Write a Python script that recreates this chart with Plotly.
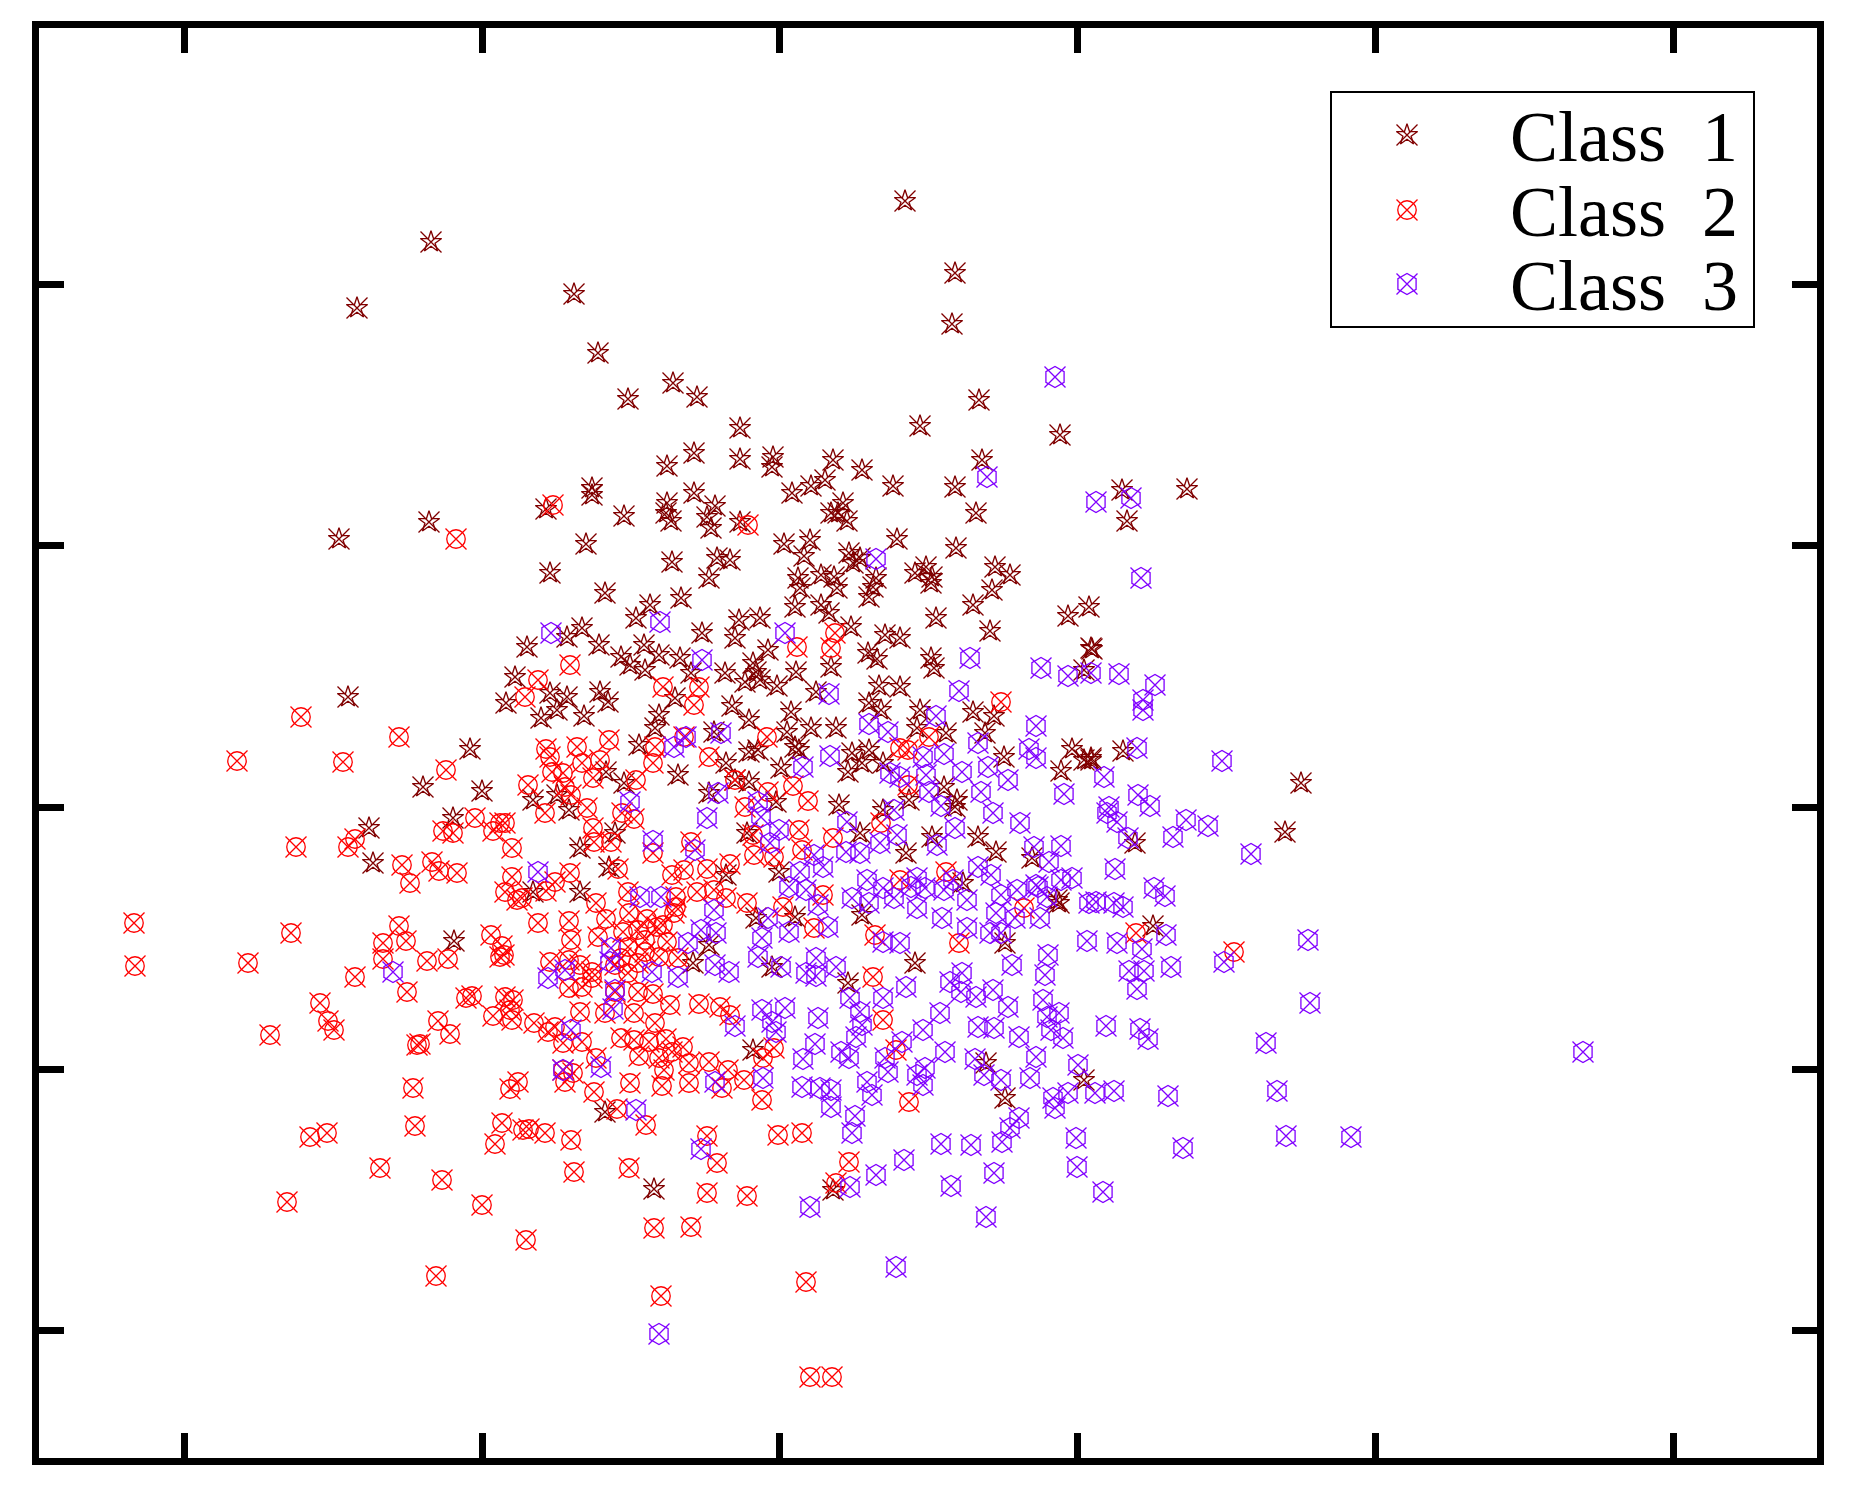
import plotly.graph_objects as go

# Values. The axes carry no numbers, so their units are arbitrary.
class1_x = [431,357,574,598,673,697,628,740,694,667,740,773,772,833,862,825,811,792,694,667,592,592,715,707,671,666,711,624,546,740,843,831,847,838,429,339,586,784,810,804,849,672,717,730,550,709,
905,955,952,979,920,1060,982,893,955,976,1122,1127,1187,897,956,853,860,995,1010,926,915,932,821,798,876,834,
605,681,800,837,873,869,795,821,829,931,992,973,936,1068,1089,990,1091,636,650,739,760,735,851,702,582,567,599,527,621,644,630,659,645,680,691,725,753,756,768,745,760,777,796,831,816,868,877,885,900,931,934,879,900,869,881,973,994,920,917,946,985,1004,1072,1061,1091,515,506,550,541,567,557,584,600,608,675,659,655,639,678,606,624,732,749,791,787,811,836,714,726,749,758,795,781,799,848,852,869,862,883,735,749,709,776,839,909,944,955,957,860,883,726,779,747,906,932,978,996,1032,580,615,533,557,569,609,533,580,1059,795,862,963,
756,693,709,772,915,848,753,986,1005,1084,605,654,833,1057,1005,
348,470,423,482,453,369,373,454,
1092,1084,1091,1084,1123,1301,1285,1135,1153]
class1_y = [1258,1192,1206,1147,1117,1103,1101,1072,1047,1034,1041,1043,1033,1040,1030,1020,1014,1007,1007,997,1012,1005,994,983,979,987,972,984,991,978,997,987,979,987,978,961,956,956,960,944,947,938,942,940,927,922,
1299,1227,1176,1100,1074,1065,1040,1014,1013,987,1010,979,1011,961,952,937,942,933,925,933,927,923,925,922,922,923,
907,902,912,912,913,903,893,895,887,917,910,895,882,884,893,869,852,882,895,880,882,862,873,867,872,863,855,853,843,855,835,845,830,842,827,827,837,828,850,818,820,814,828,833,808,847,841,865,862,842,832,814,813,797,790,788,784,790,772,767,767,743,751,729,742,823,797,807,782,803,790,784,808,798,802,785,772,755,725,728,717,794,780,788,768,772,772,768,737,748,750,753,732,750,728,747,750,737,737,720,718,707,698,695,700,713,693,700,667,690,625,628,667,647,663,663,648,642,652,667,700,705,690,633,608,608,597,583,585,617,
582,537,555,533,537,517,450,437,402,420,388,311,310,600,557,
803,751,713,709,682,672,637,559,
851,830,740,740,749,717,668,657,574]

class2_x = [301,399,237,343,446,528,475,500,493,443,453,512,296,355,348,402,432,439,457,410,512,505,517,134,291,399,406,383,383,491,502,500,504,427,448,135,248,355,407,472,466,505,513,320,
328,334,270,438,450,420,417,493,510,512,413,510,518,502,415,523,310,327,495,380,442,287,482,436,
553,456,748,
570,538,525,663,699,694,797,835,831,1001,609,577,546,550,655,653,582,600,563,552,593,636,709,735,767,684,929,900,908,565,571,768,793,808,745,908,587,545,634,622,593,611,594,505,753,799,881,833,691,653,754,774,802,730,684,707,672,618,570,555,522,546,628,697,714,676,726,747,596,783,900,946,823,1024,538,569,606,629,647,674,676,663,598,623,638,657,571,645,667,814,875,959,
645,628,621,550,569,580,615,638,659,678,628,592,569,582,592,615,638,653,670,699,720,730,534,555,548,580,605,634,655,621,634,649,666,683,563,582,672,659,689,709,728,639,596,664,563,573,763,774,744,689,662,630,565,594,722,762,617,646,909,873,529,545,571,707,778,802,574,629,717,849,836,707,747,654,691,526,883,896,
661,806,810,832,1136,1234]
class2_y = [783,763,739,738,730,715,682,677,669,669,667,652,653,661,653,635,638,629,627,617,623,608,600,577,567,574,559,557,541,565,554,543,545,539,541,534,537,523,508,504,502,503,500,497,
479,470,465,479,466,456,455,484,490,480,412,411,418,377,374,370,363,367,356,332,320,298,295,224,
995,961,975,
835,820,803,813,813,795,853,867,852,798,760,753,751,743,753,737,737,740,727,728,722,720,743,720,763,763,763,752,750,713,705,708,714,699,693,715,692,687,681,687,672,658,658,677,665,670,677,662,658,647,645,643,650,636,630,631,625,631,627,618,602,609,608,608,610,603,602,597,597,593,620,628,605,592,577,579,581,587,581,587,593,575,563,568,570,573,560,560,558,572,565,557,
548,553,542,538,540,535,535,537,543,542,527,528,512,513,522,508,508,506,495,496,493,485,477,473,468,488,487,487,477,462,460,458,461,453,457,458,448,442,437,438,430,444,442,430,430,427,442,452,420,417,414,417,418,408,412,400,391,375,398,523,371,367,360,364,365,367,328,332,337,338,317,307,304,272,273,260,480,450,
204,218,123,123,567,548]

class3_x = [1055,987,1096,1131,876,1141,
551,660,785,702,970,1041,1068,1091,959,829,936,869,888,1036,978,1029,1036,721,686,674,830,803,923,944,926,890,900,962,988,1008,981,929,1064,718,630,758,941,707,761,894,993,1020,847,955,779,897,880,770,653,695,937,1034,1061,814,846,860,538,978,991,1049,800,823,917,953,1061,1072,1036,789,806,867,883,894,911,925,944,967,1001,1017,1038,1047,852,869,640,661,714,818,1089,917,942,967,996,1015,1040,768,701,716,789,828,883,900,1001,762,688,
611,610,565,548,652,678,715,729,758,781,816,806,816,836,990,1012,1087,1048,1045,962,950,961,906,850,883,615,613,993,976,1008,1043,1047,1059,1051,1063,978,994,940,762,785,772,776,818,860,862,856,923,902,1019,735,571,815,803,841,849,945,885,975,1036,1078,1030,984,1001,925,888,917,923,867,872,802,820,831,763,715,601,563,1053,1068,1095,1055,831,855,852,1019,1010,1002,941,971,1076,636,701,876,904,994,951,850,1077,810,986,
896,659,393,
1117,1142,1166,1129,1144,1171,1137,1224,1308,1310,1106,1140,1148,1266,1583,1114,1168,1277,1183,1286,1351,1103,
1119,1155,1143,1143,1137,1222,1104,1138,1150,1109,1107,1117,1128,1173,1186,1208,1251,1115,1154,1165,1096,1114,1123]
class3_y = [1123,1023,998,1002,941,922,
867,878,867,840,842,832,824,827,809,806,784,776,768,774,757,751,742,767,763,753,744,733,743,746,725,727,723,728,733,720,708,708,706,707,698,698,694,682,683,690,687,677,678,672,670,665,657,657,659,650,655,653,654,645,648,647,628,633,625,638,628,633,622,620,620,622,615,613,610,620,612,602,613,612,610,600,605,610,613,603,602,597,603,603,590,595,597,592,582,572,587,582,582,582,570,567,568,573,558,557,567,562,557,
552,538,530,522,528,523,535,528,543,533,542,527,524,533,567,535,559,545,525,527,518,508,513,502,502,510,491,510,503,493,500,483,487,470,462,473,472,487,490,492,478,468,482,488,475,463,470,458,463,474,470,456,441,448,442,448,442,441,443,435,422,425,420,432,428,425,415,418,405,413,412,410,422,418,433,430,402,407,407,392,393,384,367,382,372,358,356,355,362,390,351,325,340,327,314,313,333,293,283,
233,166,528,
557,551,565,529,529,533,511,538,560,497,474,471,461,457,448,409,404,409,352,364,363,308,
826,815,800,790,752,739,723,705,694,693,687,678,662,663,680,674,646,631,612,604,598,597,593]

x_ticks = [184.5, 482, 779.5, 1077, 1375, 1673]
y_ticks = [170, 431, 692.5, 954.5, 1215.5]

legend_names = ["Class\u00a0\u00a01", "Class\u00a0\u00a02", "Class\u00a0\u00a03"]
legend_key_x = [1407, 1407, 1407]
legend_key_y = [1365, 1290, 1216]
legend_text_x = 1508
legend_box = (1331, 1173, 1754, 1408)

DARK, RED, PURPLE = "#800000", "#FF0000", "#8000FF"
classes = [
    ("Class 1", class1_x, class1_y, DARK, "star-open", 16),
    ("Class 2", class2_x, class2_y, RED, "circle-open", 18.5),
    ("Class 3", class3_x, class3_y, PURPLE, "hexagon-open", 21),
]
X_SIZE = 21
LW = 1.3

fig = go.Figure()
for i, (name, xs, ys, col, sym, size) in enumerate(classes):
    fig.add_trace(go.Scatter(x=xs, y=ys, mode="markers", name=name, showlegend=False,
                             marker=dict(symbol=sym, size=size, color=col, line=dict(color=col, width=LW))))
    fig.add_trace(go.Scatter(x=xs, y=ys, mode="markers", name=name, showlegend=False,
                             marker=dict(symbol="x-thin-open", size=X_SIZE, color=col, line=dict(color=col, width=LW))))
    fig.add_trace(go.Scatter(x=[legend_key_x[i]], y=[legend_key_y[i]], mode="markers", name=name + " key",
                             showlegend=False,
                             marker=dict(symbol=sym, size=size, color=col, line=dict(color=col, width=LW))))
    fig.add_trace(go.Scatter(x=[legend_key_x[i]], y=[legend_key_y[i]], mode="markers", name=name + " key",
                             showlegend=False,
                             marker=dict(symbol="x-thin-open", size=X_SIZE, color=col, line=dict(color=col, width=LW))))
    fig.add_annotation(x=legend_text_x, y=legend_key_y[i], text=legend_names[i], showarrow=False,
                       xanchor="left", yanchor="middle", yshift=-2,
                       font=dict(family="Liberation Serif", size=72, color="black"))

fig.add_shape(type="rect", x0=legend_box[0], y0=legend_box[1], x1=legend_box[2], y1=legend_box[3],
              line=dict(color="black", width=2), layer="above")

axis_style = dict(showgrid=False, zeroline=False, showticklabels=False, showline=True, linecolor="black",
                  linewidth=7, mirror="ticks", ticks="inside", ticklen=25, tickwidth=7, tickcolor="black",
                  tickmode="array")
fig.update_layout(
    width=1851, height=1495, paper_bgcolor="white", plot_bgcolor="white", showlegend=False,
    margin=dict(l=39, r=34, t=28, b=37),
    xaxis=dict(range=[39, 1817], tickvals=x_ticks, **axis_style),
    yaxis=dict(range=[42, 1472], tickvals=y_ticks, **axis_style),
)
fig.write_html("out.html", config={"displayModeBar": False},
               post_script="document.body.style.margin='0';window.dispatchEvent(new Event('resize'));")
